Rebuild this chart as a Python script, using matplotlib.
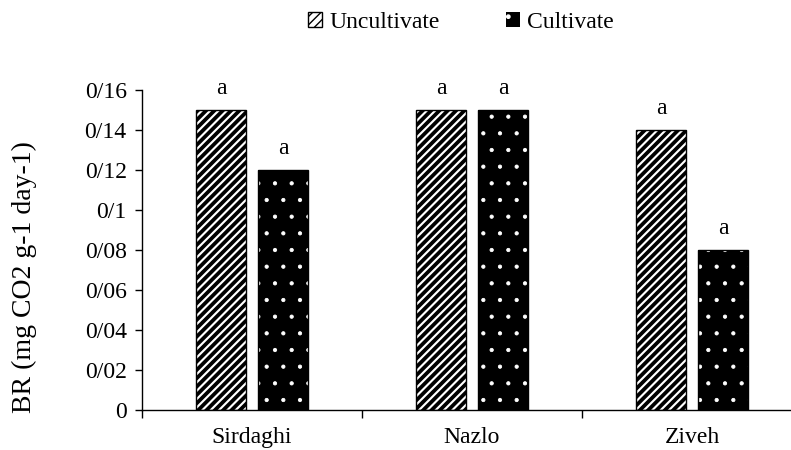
import matplotlib
matplotlib.use("Agg")
import matplotlib.pyplot as plt
import numpy as np
from matplotlib.ticker import FuncFormatter, FixedLocator

plt.rcParams['font.family'] = ['Liberation Serif', 'DejaVu Serif']

sites = ["Sirdaghi", "Nazlo", "Ziveh"]
uncultivate = [0.15, 0.15, 0.14]
cultivate = [0.12, 0.15, 0.08]
letters_unc = ["a", "a", "a"]
letters_cul = ["a", "a", "a"]
yticks = [0, 0.02, 0.04, 0.06, 0.08, 0.10, 0.12, 0.14, 0.16]

FS = 17

fig = plt.figure(figsize=(7.91, 4.5), dpi=100)
ax = fig.add_axes([142/791, 1 - 410/450, 649/791, 320/450])

x = np.arange(len(sites))
w = 0.227
off = 0.141

with plt.rc_context({'hatch.linewidth': 2.7}):
    ax.bar(x - off, uncultivate, w, facecolor="white", edgecolor="black",
           hatch="////", linewidth=1.0, label="Uncultivate")
with plt.rc_context({'hatch.linewidth': 0.6}):
    ax.bar(x + off, cultivate, w, facecolor="black", edgecolor="white",
           hatch=".", linewidth=0, label="Cultivate")
ax.bar(x + off, cultivate, w, facecolor="none", edgecolor="black", linewidth=1.0)

for xi, v, t in zip(x - off, uncultivate, letters_unc):
    ax.text(xi, v + 0.0055, t, ha="center", va="bottom", fontsize=FS)
for xi, v, t in zip(x + off, cultivate, letters_cul):
    ax.text(xi, v + 0.0055, t, ha="center", va="bottom", fontsize=FS)

ax.set_xlim(-0.5, -0.5 + 649/220)
ax.set_ylim(0, 0.16)

ax.yaxis.set_major_locator(FixedLocator(yticks))
ax.yaxis.set_major_formatter(FuncFormatter(lambda v, p: ("%g" % round(v, 4)).replace(".", "/")))

ax.set_xticks(x)
ax.set_xticklabels(sites, fontsize=FS)
ax.tick_params(axis="x", which="major", length=0, pad=12)
ax.set_xticks([-0.5, 0.5, 1.5], minor=True)
ax.tick_params(axis="x", which="minor", length=6, direction="out", width=1)
ax.tick_params(axis="y", length=5, direction="out", width=1, labelsize=FS, pad=6)

for s in ["top", "right"]:
    ax.spines[s].set_visible(False)
ax.spines["left"].set_linewidth(1)
ax.spines["bottom"].set_linewidth(1)

ax.set_ylabel("BR (mg CO2 g-1 day-1)", fontsize=20)
ax.yaxis.set_label_coords(-0.162, 0.416)

fig.legend(loc="center", bbox_to_anchor=(461/791, 1 - 22/450), ncol=2, frameon=False,
           fontsize=FS, handlelength=0.6, handleheight=0.6, handletextpad=0.3,
           columnspacing=2.8)

fig.savefig("out.png", dpi=100)
